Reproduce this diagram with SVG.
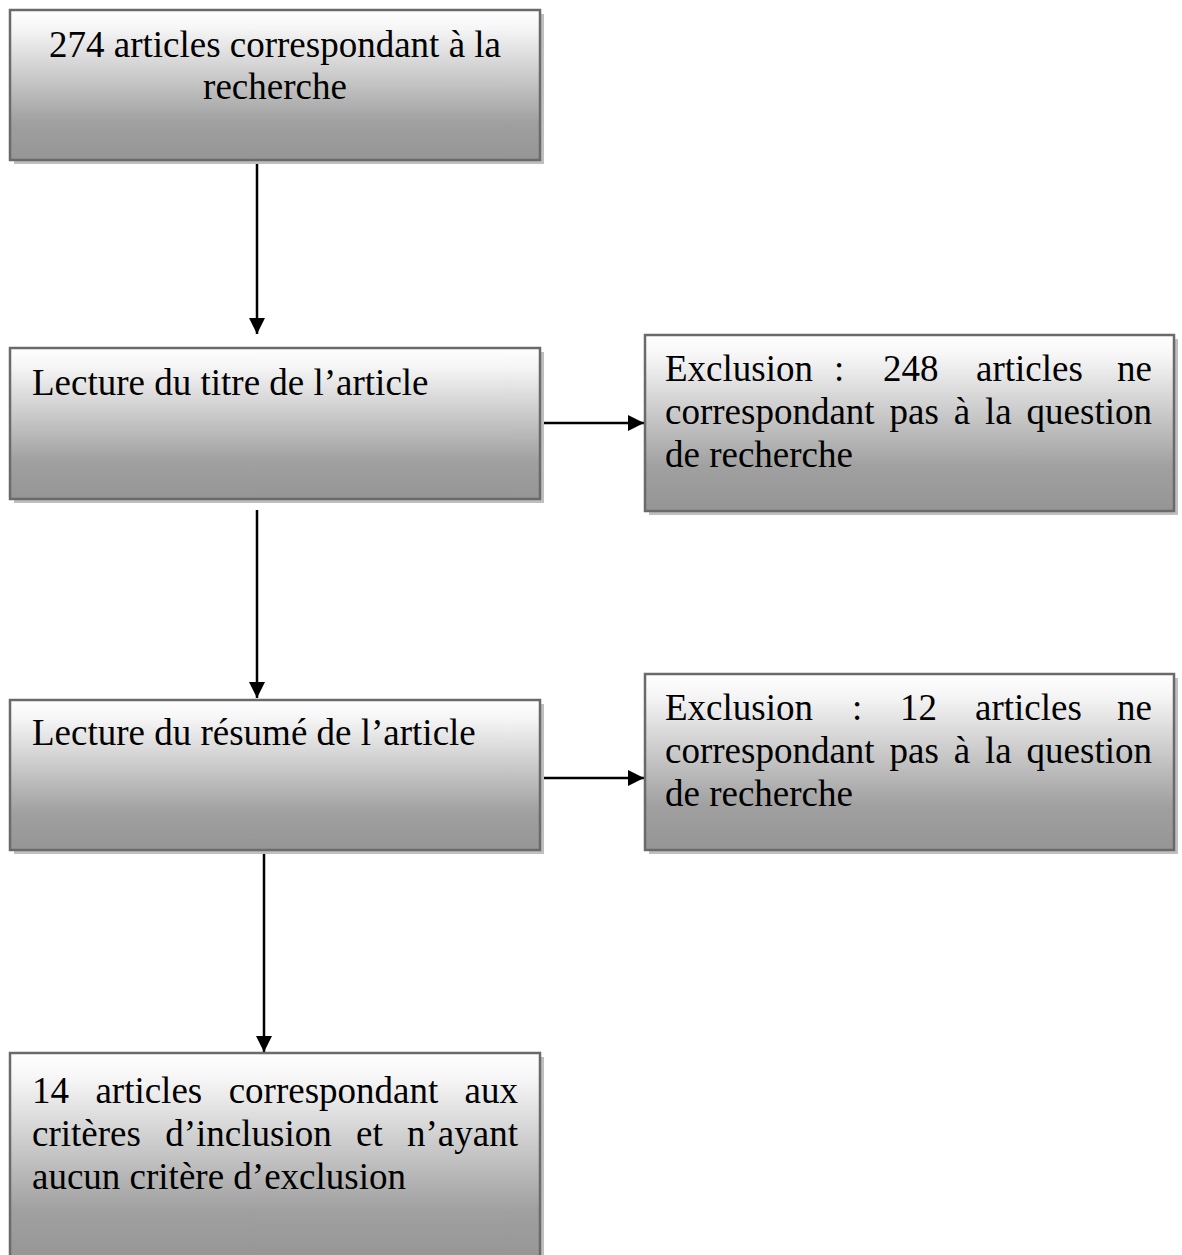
<svg xmlns="http://www.w3.org/2000/svg" width="1182" height="1255" viewBox="0 0 1182 1255">
<style>
.shadow{fill:#bfbfbf}
.box{fill:url(#grad);stroke:#6a6a6a;stroke-width:2.5}
text{font-family:"Liberation Serif","Times New Roman",serif;font-size:37px;fill:#000}
.conn{stroke:#000;stroke-width:2.5;fill:none;marker-end:url(#arrow)}
</style>
<defs>
<linearGradient id="grad" x1="0" y1="0" x2="0" y2="1">
<stop offset="0" stop-color="#ffffff"/>
<stop offset="0.12" stop-color="#f6f6f6"/>
<stop offset="0.75" stop-color="#a0a0a0"/>
<stop offset="1" stop-color="#959595"/>
</linearGradient>
<marker id="arrow" markerUnits="userSpaceOnUse" markerWidth="16" markerHeight="16" refX="16" refY="8" orient="auto">
<path d="M0,0 L16,8 L0,16 z" fill="#000"/>
</marker>
</defs>
<g id="connectors">
<line class="conn" x1="257" y1="160" x2="257" y2="334"/>
<line class="conn" x1="257" y1="510" x2="257" y2="698"/>
<line class="conn" x1="264" y1="850" x2="264" y2="1052"/>
<line class="conn" x1="540" y1="423" x2="644" y2="423"/>
<line class="conn" x1="540" y1="778" x2="644" y2="778"/>
</g>
<g id="n1">
<rect class="shadow" x="14" y="14" width="530" height="150"/>
<rect class="box" x="10" y="10" width="530" height="150"/>
<text x="275" y="57" text-anchor="middle">274 articles correspondant à la</text>
<text x="275" y="99" text-anchor="middle">recherche</text>
</g>
<g id="n2">
<rect class="shadow" x="14" y="352" width="530" height="151"/>
<rect class="box" x="10" y="348" width="530" height="151"/>
<text x="32" y="395">Lecture du titre de l’article</text>
</g>
<g id="n3">
<rect class="shadow" x="649" y="339" width="529" height="176"/>
<rect class="box" x="645" y="335" width="529" height="176"/>
<text y="381"><tspan x="665">Exclusion</tspan><tspan x="834">:</tspan><tspan x="883">248</tspan><tspan x="976">articles</tspan><tspan x="1152" text-anchor="end">ne</tspan></text>
<text y="424"><tspan x="665">correspondant</tspan><tspan x="889.5">pas</tspan><tspan x="953.7">à</tspan><tspan x="985">la</tspan><tspan x="1152" text-anchor="end">question</tspan></text>
<text x="665" y="467">de recherche</text>
</g>
<g id="n4">
<rect class="shadow" x="14" y="704" width="530" height="150"/>
<rect class="box" x="10" y="700" width="530" height="150"/>
<text x="32" y="745">Lecture du résumé de l’article</text>
</g>
<g id="n5">
<rect class="shadow" x="649" y="678" width="529" height="176"/>
<rect class="box" x="645" y="674" width="529" height="176"/>
<text y="720"><tspan x="665">Exclusion</tspan><tspan x="852">:</tspan><tspan x="900">12</tspan><tspan x="975">articles</tspan><tspan x="1152" text-anchor="end">ne</tspan></text>
<text y="763"><tspan x="665">correspondant</tspan><tspan x="889.5">pas</tspan><tspan x="953.7">à</tspan><tspan x="985">la</tspan><tspan x="1152" text-anchor="end">question</tspan></text>
<text x="665" y="806">de recherche</text>
</g>
<g id="n6">
<rect class="shadow" x="14" y="1057" width="530" height="210"/>
<rect class="box" x="10" y="1053" width="530" height="210"/>
<text y="1103"><tspan x="32">14</tspan><tspan x="95.4">articles</tspan><tspan x="228.7">correspondant</tspan><tspan x="518" text-anchor="end">aux</tspan></text>
<text y="1146"><tspan x="32">critères</tspan><tspan x="165.2">d’inclusion</tspan><tspan x="356">et</tspan><tspan x="518" text-anchor="end">n’ayant</tspan></text>
<text x="32" y="1189">aucun critère d’exclusion</text>
</g>
</svg>
